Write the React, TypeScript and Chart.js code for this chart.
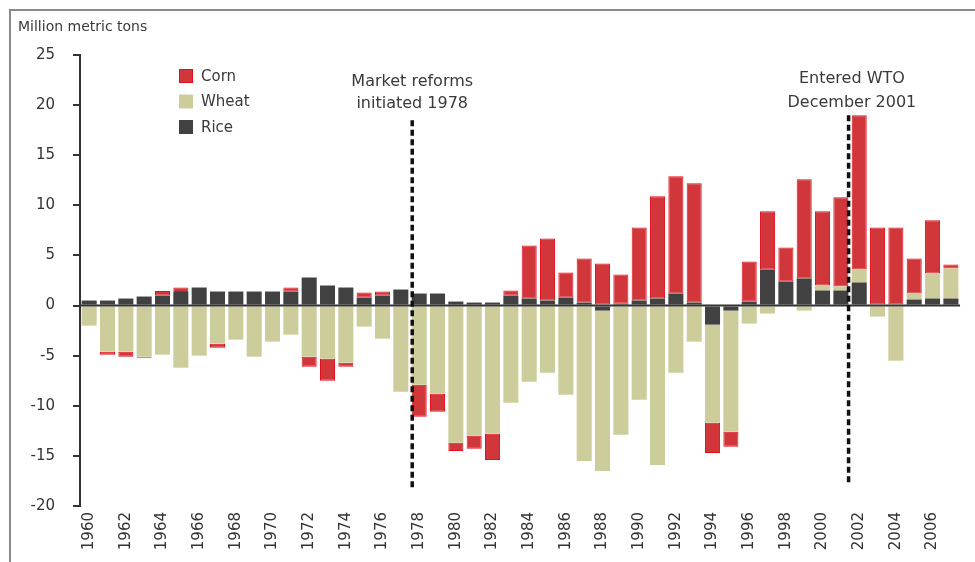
import React, { useEffect, useRef } from "react";
import { Chart, registerables } from "chart.js";

Chart.register(...registerables);

// ---------- data ----------
const years = [
  "1960", "1961", "1962", "1963", "1964", "1965", "1966", "1967", "1968", "1969",
  "1970", "1971", "1972", "1973", "1974", "1975", "1976", "1977", "1978", "1979",
  "1980", "1981", "1982", "1983", "1984", "1985", "1986", "1987", "1988", "1989",
  "1990", "1991", "1992", "1993", "1994", "1995", "1996", "1997", "1998", "1999",
  "2000", "2001", "2002", "2003", "2004", "2005", "2006", "2007",
];

const xTickLabels = [
  "1960", "1962", "1964", "1966", "1968", "1970", "1972", "1974", "1976", "1978",
  "1980", "1982", "1984", "1986", "1988", "1990", "1992", "1994", "1996", "1998",
  "2000", "2002", "2004", "2006",
];

const rice = [
  0.5, 0.5, 0.7, 0.9, 1.0, 1.35, 1.8, 1.4, 1.4, 1.4,
  1.4, 1.4, 2.8, 2.0, 1.8, 0.8, 1.0, 1.6, 1.2, 1.2,
  0.4, 0.3, 0.3, 1.0, 0.7, 0.5, 0.8, 0.3, -0.5, 0.2,
  0.5, 0.7, 1.2, 0.3, -1.9, -0.5, 0.4, 3.6, 2.4, 2.7,
  1.5, 1.5, 2.3, 0.1, 0.1, 0.6, 0.7, 0.7,
];

const wheat = [
  -2.0, -4.6, -4.6, -5.1, -4.9, -6.2, -5.0, -3.8, -3.4, -5.1,
  -3.6, -2.9, -5.1, -5.3, -5.7, -2.1, -3.3, -8.6, -7.9, -8.8,
  -13.7, -13.0, -12.8, -9.7, -7.6, -6.7, -8.9, -15.5, -16.0, -12.9,
  -9.4, -15.9, -6.7, -3.6, -9.8, -12.1, -1.8, -0.8, -0.1, -0.5,
  0.5, 0.4, 1.3, -1.1, -5.5, 0.6, 2.5, 3.0,
];

const corn = [
  0, -0.3, -0.5, -0.1, 0.45, 0.45, 0, -0.4, 0, 0,
  0, 0.4, -1.0, -2.2, -0.4, 0.5, 0.4, 0, -3.2, -1.8,
  -0.8, -1.3, -2.6, 0.5, 5.3, 6.2, 2.5, 4.4, 4.2, 2.9,
  7.3, 10.2, 11.7, 11.9, -3.0, -1.5, 4.0, 5.8, 3.4, 9.9,
  7.4, 8.9, 15.4, 7.7, 7.7, 3.5, 5.3, 0.4,
];

const yMin = -20;
const yMax = 25;
const yStep = 5;

const legendLabels = ["Corn", "Wheat", "Rice"];

// annotation positions in data units (category index, value)
const reformLine = { index: 17.62, top: 18.5, bottom: -18.4 };
const reformText = ["Market reforms", "initiated 1978"];
const reformTextY = [22.3, 20.1];
const wtoLine = { index: 41.42, top: 19.0, bottom: -17.8 };
const wtoText = ["Entered WTO", "December 2001"];
const wtoTextY = [22.6, 20.2];
const wtoTextIndex = 41.6;

// ---------- styles ----------
const FONT = "'DejaVu Sans', sans-serif";
const CORN_FILL = "#d1373a";
const CORN_EDGE = "#e30f1d";
const WHEAT_FILL = "#cdcc9b";
const RICE_FILL = "#414141";
const TEXT = "#3a3a3a";

const overlay = {
  id: "overlay",
  afterDatasetsDraw(chart: any) {
    const { ctx, chartArea, scales } = chart;
    const x = scales.x;
    const y = scales.y;
    ctx.save();
    // zero line
    const y0 = y.getPixelForValue(0);
    ctx.strokeStyle = "#333";
    ctx.lineWidth = 2;
    ctx.beginPath();
    ctx.moveTo(chartArea.left, y0);
    ctx.lineTo(chartArea.right, y0);
    ctx.stroke();

    // dashed lines
    ctx.strokeStyle = "#111";
    ctx.lineWidth = 3.5;
    ctx.setLineDash([6, 3.5]);
    for (const l of [reformLine, wtoLine]) {
      const px = x.getPixelForValue(l.index);
      ctx.beginPath();
      ctx.moveTo(px, y.getPixelForValue(l.top));
      ctx.lineTo(px, y.getPixelForValue(l.bottom));
      ctx.stroke();
    }
    ctx.setLineDash([]);

    // annotation text
    ctx.fillStyle = TEXT;
    ctx.font = `16px ${FONT}`;
    ctx.textAlign = "center";
    ctx.textBaseline = "middle";
    const rx = x.getPixelForValue(reformLine.index);
    reformText.forEach((t, i) => ctx.fillText(t, rx, y.getPixelForValue(reformTextY[i])));
    const wx = x.getPixelForValue(wtoTextIndex);
    wtoText.forEach((t, i) => ctx.fillText(t, wx, y.getPixelForValue(wtoTextY[i])));

    // legend
    const fills = [CORN_FILL, WHEAT_FILL, RICE_FILL];
    const lx = chartArea.left + 99;
    const ly = chartArea.top + 21;
    ctx.font = `15px ${FONT}`;
    ctx.textAlign = "left";
    legendLabels.forEach((lab, i) => {
      const cy = ly + i * 25.5;
      ctx.fillStyle = fills[i];
      ctx.fillRect(lx, cy - 7, 14, 14);
      if (i === 0) {
        ctx.strokeStyle = CORN_EDGE;
        ctx.lineWidth = 1;
        ctx.strokeRect(lx + 0.5, cy - 6.5, 13, 13);
      }
      ctx.fillStyle = TEXT;
      ctx.fillText(lab, lx + 22, cy + 1);
    });
    ctx.restore();
  },
  afterDraw(chart: any) {
    const { ctx, width, height } = chart;
    ctx.save();
    // frame
    ctx.strokeStyle = "#8a8a8a";
    ctx.lineWidth = 2;
    ctx.beginPath();
    ctx.moveTo(10, height);
    ctx.lineTo(10, 10);
    ctx.lineTo(width, 10);
    ctx.stroke();
    // unit title
    ctx.fillStyle = TEXT;
    ctx.font = `14px ${FONT}`;
    ctx.textAlign = "left";
    ctx.textBaseline = "middle";
    ctx.fillText("Million metric tons", 18, 27);
    ctx.restore();
  },
};

export default function App() {
  const ref = useRef<HTMLCanvasElement | null>(null);

  useEffect(() => {
    const canvas = ref.current;
    if (!canvas) return;
    const chart = new Chart(canvas, {
      type: "bar",
      data: {
        labels: years,
        datasets: [
          { label: "Rice", data: rice, backgroundColor: RICE_FILL, borderWidth: 0 },
          { label: "Wheat", data: wheat, backgroundColor: WHEAT_FILL, borderWidth: 0 },
          {
            label: "Corn",
            data: corn,
            backgroundColor: CORN_FILL,
            borderColor: CORN_EDGE,
            borderWidth: 1,
            borderSkipped: false,
          },
        ],
      },
      options: {
        animation: false,
        responsive: false,
        maintainAspectRatio: false,
        layout: { padding: { top: 55, right: 11, left: 0, bottom: 0 } },
        datasets: { bar: { categoryPercentage: 1, barPercentage: 0.82 } },
        plugins: { legend: { display: false }, tooltip: { enabled: false } },
        scales: {
          x: {
            stacked: true,
            grid: { display: false, drawTicks: false },
            border: { display: false },
            ticks: {
              autoSkip: false,
              minRotation: 90,
              maxRotation: 90,
              padding: 6,
              color: "#333",
              font: { family: FONT, size: 15 },
              callback: (_v: any, i: number) =>
                xTickLabels.includes(years[i]) ? years[i] : "",
            },
            afterFit: (s: any) => {
              s.height = 56;
            },
          },
          y: {
            stacked: true,
            min: yMin,
            max: yMax,
            ticks: {
              stepSize: yStep,
              padding: 18,
              color: "#333",
              font: { family: FONT, size: 15 },
            },
            grid: {
              drawOnChartArea: false,
              drawTicks: true,
              tickLength: 7,
              color: "#333",
              lineWidth: 2,
            },
            border: { display: true, color: "#333", width: 2 },
            afterFit: (s: any) => {
              s.width = 80;
            },
          },
        },
      },
      plugins: [overlay],
    });
    return () => chart.destroy();
  }, []);

  return (
    <div style={{ position: "fixed", left: 0, top: 0, width: 975, height: 562, background: "#fff" }}>
      <canvas ref={ref} width={975} height={562} style={{ display: "block", width: 975, height: 562 }} />
    </div>
  );
}
